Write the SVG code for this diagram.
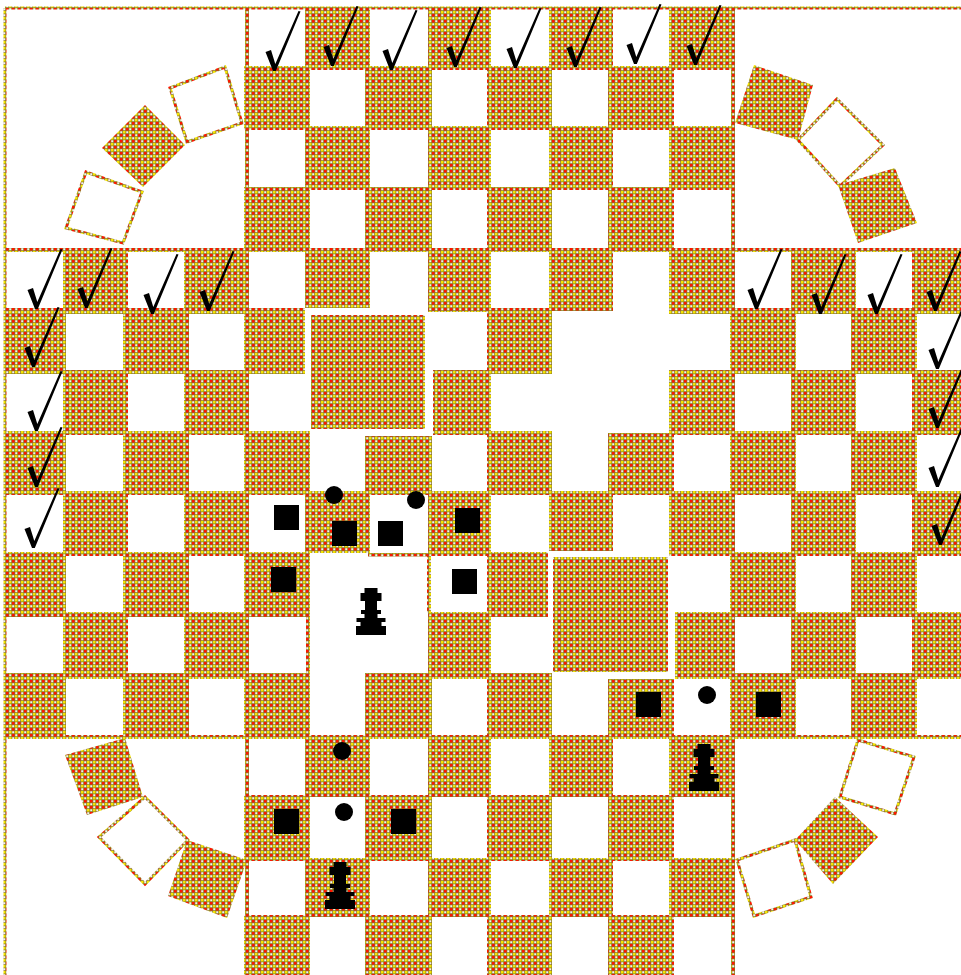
<svg xmlns="http://www.w3.org/2000/svg" width="961" height="975" viewBox="0 0 961 975">
<style>
.c{fill:url(#p)}
.l{fill:url(#p)}
.w{fill:#fff;stroke:url(#p);stroke-width:3}
.s{fill:#000}
</style>
<defs>
<pattern id="p" patternUnits="userSpaceOnUse" x="0" y="2" width="6" height="6">
<rect width="6" height="6" fill="#8c7a20"/>
<rect x="0" y="0" width="2.5" height="2.5" fill="#ff1400"/>
<rect x="3" y="3" width="2.5" height="2.5" fill="#f6e600"/>
<rect x="3.25" y=".25" width="2" height="2" fill="#f4f0f0"/>
<rect x=".25" y="3.25" width="2" height="2" fill="#f4f0f0"/>
</pattern>
<path id="pawn" d="M-6.5 0H6.5V5H10.5V13H6V22H10V26H6.5V30H14.5V34H10.5V38H15V47H-15V38H-10.5V34H-14.5V30H-6.5V26H-10V22H-6V13H-10.5V5H-6.5Z"/>
<path id="chk" d="M-9.5-18L-4-20L.3-6L23.5-59L25.5-58.5L.8 1L-2 1Z"/>
</defs>
<rect width="961" height="975" fill="#fff"/>
<g id="board">
<rect class="l" x="5" y="6.5" width="956" height="3"/>
<rect class="l" x="3.5" y="8" width="3" height="967"/>
<rect class="l" x="245" y="8" width="4" height="242"/>
<rect class="l" x="731" y="8" width="4" height="242"/>
<rect class="l" x="5" y="248" width="956" height="4"/>
<rect class="l" x="5" y="735" width="956" height="4"/>
<rect class="l" x="245" y="738" width="4" height="237"/>
<rect class="l" x="731" y="738" width="4" height="237"/>
<rect class="l" x="368" y="553" width="62" height="3.5"/>
<rect class="l" x="427" y="553" width="4" height="60"/>
<rect class="l" x="306" y="616" width="4" height="58"/>
<path class="c" d="M305 8H370V70H305ZM428 8H491V70H428ZM549 8H613V70H549ZM669 8H735V70H669Z
M244 66H310V130H244ZM365 66H432V130H365ZM487 66H552V130H487ZM608 66H674V130H608Z
M305 126H370V190H305ZM428 126H491V190H428ZM549 126H613V190H549ZM669 126H735V190H669Z
M244 187H310V250H244ZM365 187H432V250H365ZM487 187H552V250H487ZM608 187H674V250H608Z
M63 250H128V314H63ZM184 250H249V314H184ZM305 250H370V308H305ZM428 250H491V312H428ZM549 250H613V311H549ZM669 250H735V314H669ZM791 250H856V314H791ZM912 250H961V314H912Z
M5 308H66V374H5ZM123 308H189V374H123ZM244 308H305V374H244ZM487 308H552V374H487ZM730 308H796V374H730ZM851 308H917V374H851Z
M311 315H425V429H311Z
M63 370H128V435H63ZM184 370H249V435H184ZM433 370H491V435H433ZM669 370H735V435H669ZM791 370H856V435H791ZM912 370H961V435H912Z
M5 431H66V495H5ZM123 431H189V495H123ZM244 431H310V495H244ZM365 436H432V495H365ZM487 431H552V495H487ZM608 433H674V495H608ZM730 431H796V495H730ZM851 431H917V495H851Z
M63 491H128V556H63ZM184 491H249V556H184ZM305 491H370V553H305ZM428 491H491V556H428ZM549 491H613V551H549ZM669 491H735V556H669ZM791 491H856V556H791ZM912 491H961V556H912Z
M5 552H66V617H5ZM123 552H189V617H123ZM244 552H310V617H244ZM487 552H548V617H487ZM730 552H796V617H730ZM851 552H917V617H851Z
M553 557H668V672H553Z
M63 612H128V679H63ZM184 612H249V679H184ZM428 612H491V679H428ZM675 612H735V679H675ZM791 612H856V679H791ZM912 612H961V679H912Z
M5 673H66V738H5ZM123 673H189V738H123ZM244 673H310V738H244ZM365 673H432V738H365ZM487 673H552V738H487ZM608 679H674V738H608ZM730 673H796V738H730ZM851 673H917V738H851Z
M305 735H370V797H305ZM428 735H491V797H428ZM549 735H613V797H549ZM669 735H735V797H669Z
M244 795H310V861H244ZM365 795H432V861H365ZM487 795H552V861H487ZM608 795H674V861H608Z
M305 858H370V917H305ZM428 858H491V917H428ZM549 858H613V917H549ZM669 858H735V917H669Z
M244 915H310V975H244ZM365 915H432V975H365ZM487 915H552V975H487ZM608 915H674V975H608Z"/>
</g>
<g id="corners">
<polygon class="w" points="170,88 225,67 242,123 187,142"/>
<polygon class="c" points="145,105 185,145 143,187 102,148"/>
<polygon class="w" points="86,172 142,192 123,243 66,228"/>
<polygon class="c" points="754,65 813,85 798,140 735,123"/>
<polygon class="w" points="837,99 883,145 840,186 798,140"/>
<polygon class="c" points="838,185 895,168 917,223 858,243"/>
<polygon class="c" points="65,755 125,738 143,797 87,815"/>
<polygon class="w" points="145,797 188,840 145,884 99,837"/>
<polygon class="c" points="187,840 247,860 227,918 168,896"/>
<polygon class="w" points="737,860 795,840 811,897 754,916"/>
<polygon class="c" points="835,797 878,837 833,884 795,840"/>
<polygon class="w" points="858,740 914,757 895,814 840,797"/>
</g>
<g id="pieces">
<rect class="s" x="274" y="505" width="25" height="25"/>
<rect class="s" x="332" y="521" width="25" height="25"/>
<rect class="s" x="378" y="521" width="25" height="25"/>
<rect class="s" x="455" y="508" width="25" height="25"/>
<rect class="s" x="271" y="567" width="25" height="25"/>
<rect class="s" x="452" y="569" width="25" height="25"/>
<rect class="s" x="636" y="692" width="25" height="25"/>
<rect class="s" x="756" y="692" width="25" height="25"/>
<rect class="s" x="274" y="809" width="25" height="25"/>
<rect class="s" x="391" y="809" width="25" height="25"/>
<circle class="s" cx="334" cy="495" r="9"/>
<circle class="s" cx="416" cy="500" r="9"/>
<circle class="s" cx="707" cy="695" r="9"/>
<circle class="s" cx="342" cy="751" r="9"/>
<circle class="s" cx="344" cy="812" r="9"/>
<use href="#pawn" x="371" y="588"/>
<use href="#pawn" x="704" y="744"/>
<use href="#pawn" x="340" y="862"/>
</g>
<g id="marks">
<use href="#chk" x="275" y="70"/>
<use href="#chk" x="333" y="65"/>
<use href="#chk" x="392" y="69"/>
<use href="#chk" x="456" y="66"/>
<use href="#chk" x="516" y="67"/>
<use href="#chk" x="576" y="66"/>
<use href="#chk" x="636" y="63"/>
<use href="#chk" x="696" y="64"/>
<use href="#chk" x="37" y="308"/>
<use href="#chk" x="87" y="307"/>
<use href="#chk" x="153" y="313"/>
<use href="#chk" x="209" y="310"/>
<use href="#chk" x="757" y="308"/>
<use href="#chk" x="821" y="313"/>
<use href="#chk" x="877" y="313"/>
<use href="#chk" x="936" y="310"/>
<use href="#chk" x="34" y="366"/>
<use href="#chk" x="37" y="430"/>
<use href="#chk" x="37" y="486"/>
<use href="#chk" x="34" y="547"/>
<use href="#chk" x="938" y="368"/>
<use href="#chk" x="938" y="427"/>
<use href="#chk" x="938" y="486"/>
<use href="#chk" x="941" y="544"/>
</g>
</svg>
